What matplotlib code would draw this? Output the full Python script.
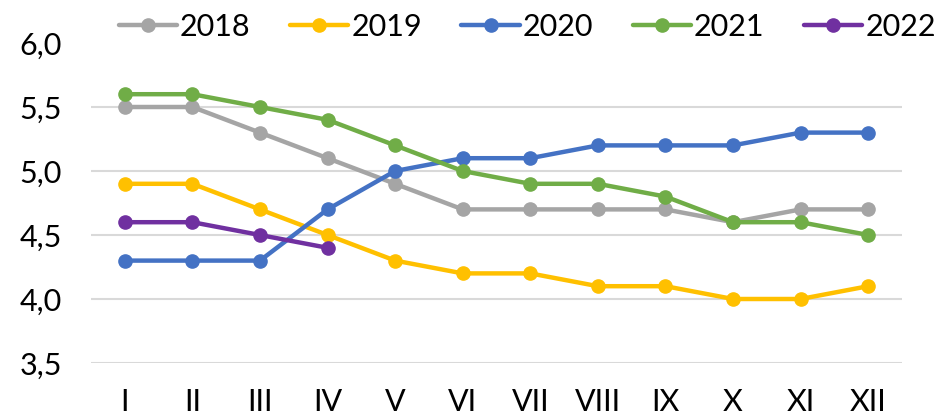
import matplotlib
matplotlib.use('Agg')
import matplotlib.pyplot as plt
import numpy as np

months = ['I', 'II', 'III', 'IV', 'V', 'VI', 'VII', 'VIII', 'IX', 'X', 'XI', 'XII']
y2018 = [5.5, 5.5, 5.3, 5.1, 4.9, 4.7, 4.7, 4.7, 4.7, 4.6, 4.7, 4.7]
y2019 = [4.9, 4.9, 4.7, 4.5, 4.3, 4.2, 4.2, 4.1, 4.1, 4.0, 4.0, 4.1]
y2020 = [4.3, 4.3, 4.3, 4.7, 5.0, 5.1, 5.1, 5.2, 5.2, 5.2, 5.3, 5.3]
y2021 = [5.6, 5.6, 5.5, 5.4, 5.2, 5.0, 4.9, 4.9, 4.8, 4.6, 4.6, 4.5]
y2022 = [4.6, 4.6, 4.5, 4.4]
yticks = [3.5, 4.0, 4.5, 5.0, 5.5, 6.0]

plt.rcParams['font.family'] = ['Lato', 'DejaVu Sans']

fig = plt.figure(figsize=(9.38, 4.19), dpi=100)
ax = fig.add_axes([91/938, 1-363/419, (902-91)/938, (363-43)/419])

series = [('2018', y2018, '#A5A5A5'),
          ('2019', y2019, '#FFC000'),
          ('2020', y2020, '#4472C4'),
          ('2021', y2021, '#70AD47'),
          ('2022', y2022, '#7030A0')]
for name, vals, col in series:
    x = np.arange(len(vals))
    ax.plot(x, vals, color=col, lw=3.2, marker='o', ms=9.5,
            solid_capstyle='round', label=name, zorder=3)

ax.set_xlim(-0.5, len(months) - 0.5)
ax.set_ylim(3.5, 6.0)
ax.set_xticks(np.arange(len(months)))
ax.set_xticklabels(months)
ax.set_yticks(yticks)
ax.set_yticklabels([('%.1f' % v).replace('.', ',') for v in yticks])
for v in yticks[:-1]:
    ax.axhline(v, color='#D9D9D9', lw=1.5, zorder=1)
for s in ax.spines.values():
    s.set_visible(False)
ax.tick_params(axis='both', length=0, labelsize=22)
ax.tick_params(axis='y', pad=21)
ax.tick_params(axis='x', pad=18)

fig.legend(loc='center', bbox_to_anchor=(0.562, 1-27/419), ncol=5, frameon=False,
           fontsize=22, handlelength=1.9, handletextpad=0.1, columnspacing=1.3)

fig.savefig('out.png', dpi=100)
